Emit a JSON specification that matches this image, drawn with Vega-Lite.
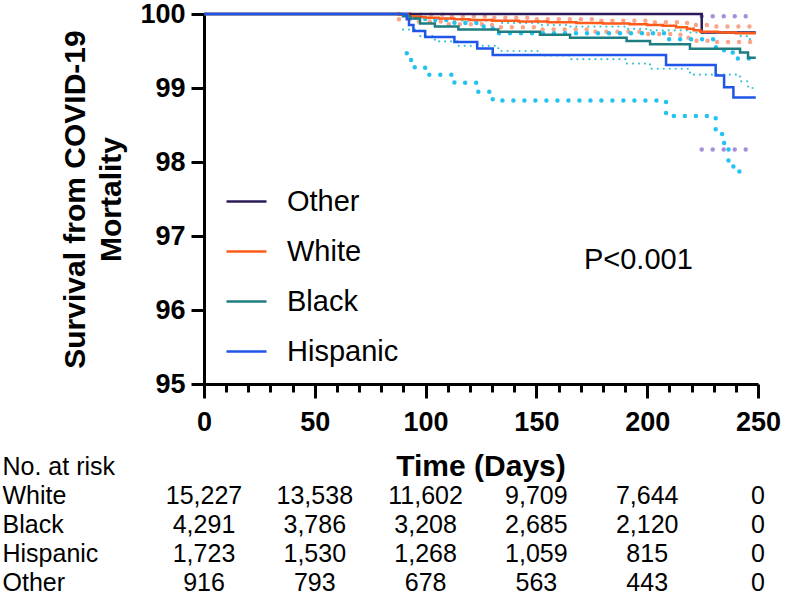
{
  "$schema": "https://vega.github.io/schema/vega-lite/v6.json",
  "padding": {"left": 2, "top": 0, "right": 0, "bottom": 0},
  "spacing": 16,
  "config": {
    "view": {"stroke": null},
    "font": "Liberation Sans",
    "axis": {"domainColor": "black", "tickColor": "black", "labelColor": "black", "titleColor": "black", "grid": false}
  },
  "datasets": {
    "km": [
      {"group": "Other", "day": 0, "surv": 100},
      {"group": "Other", "day": 224.6, "surv": 99.75},
      {"group": "Other", "day": 249, "surv": 99.75},
      {"group": "White", "day": 0, "surv": 100},
      {"group": "White", "day": 88, "surv": 99.99},
      {"group": "White", "day": 92, "surv": 99.97},
      {"group": "White", "day": 96, "surv": 99.96},
      {"group": "White", "day": 100, "surv": 99.95},
      {"group": "White", "day": 106, "surv": 99.94},
      {"group": "White", "day": 113, "surv": 99.93},
      {"group": "White", "day": 120, "surv": 99.92},
      {"group": "White", "day": 130, "surv": 99.91},
      {"group": "White", "day": 142, "surv": 99.9},
      {"group": "White", "day": 155, "surv": 99.89},
      {"group": "White", "day": 168, "surv": 99.88},
      {"group": "White", "day": 180, "surv": 99.87},
      {"group": "White", "day": 192, "surv": 99.86},
      {"group": "White", "day": 200, "surv": 99.85},
      {"group": "White", "day": 207, "surv": 99.84},
      {"group": "White", "day": 213, "surv": 99.82},
      {"group": "White", "day": 218, "surv": 99.8},
      {"group": "White", "day": 221, "surv": 99.78},
      {"group": "White", "day": 224, "surv": 99.76},
      {"group": "White", "day": 232, "surv": 99.75},
      {"group": "White", "day": 240, "surv": 99.74},
      {"group": "White", "day": 249, "surv": 99.74},
      {"group": "Black", "day": 0, "surv": 100},
      {"group": "Black", "day": 89.8, "surv": 99.97},
      {"group": "Black", "day": 93, "surv": 99.94},
      {"group": "Black", "day": 97.5, "surv": 99.87},
      {"group": "Black", "day": 104.2, "surv": 99.83},
      {"group": "Black", "day": 114.8, "surv": 99.79},
      {"group": "Black", "day": 132.8, "surv": 99.76},
      {"group": "Black", "day": 151.6, "surv": 99.72},
      {"group": "Black", "day": 165.2, "surv": 99.68},
      {"group": "Black", "day": 190.7, "surv": 99.635},
      {"group": "Black", "day": 201.3, "surv": 99.59},
      {"group": "Black", "day": 219.3, "surv": 99.53},
      {"group": "Black", "day": 241.9, "surv": 99.48},
      {"group": "Black", "day": 245.5, "surv": 99.41},
      {"group": "Black", "day": 249, "surv": 99.41},
      {"group": "Hispanic", "day": 0, "surv": 100},
      {"group": "Hispanic", "day": 91.5, "surv": 99.93},
      {"group": "Hispanic", "day": 92.5, "surv": 99.85},
      {"group": "Hispanic", "day": 94.5, "surv": 99.77},
      {"group": "Hispanic", "day": 99.8, "surv": 99.69},
      {"group": "Hispanic", "day": 113, "surv": 99.62},
      {"group": "Hispanic", "day": 123.3, "surv": 99.535},
      {"group": "Hispanic", "day": 130.3, "surv": 99.445},
      {"group": "Hispanic", "day": 208.5, "surv": 99.31},
      {"group": "Hispanic", "day": 230.9, "surv": 99.17},
      {"group": "Hispanic", "day": 234.7, "surv": 99.01},
      {"group": "Hispanic", "day": 238.9, "surv": 98.87},
      {"group": "Hispanic", "day": 249, "surv": 98.87}
    ],
    "ci": [
      {"group": "Other", "bound": "upper", "day": 224.6, "surv": 99.97},
      {"group": "Other", "bound": "upper", "day": 246, "surv": 99.97},
      {"group": "Other", "bound": "lower", "day": 224.6, "surv": 98.17},
      {"group": "Other", "bound": "lower", "day": 246, "surv": 98.17},
      {"group": "White", "bound": "upper", "day": 88, "surv": 100},
      {"group": "White", "bound": "upper", "day": 95, "surv": 99.99},
      {"group": "White", "bound": "upper", "day": 110, "surv": 99.97},
      {"group": "White", "bound": "upper", "day": 130, "surv": 99.95},
      {"group": "White", "bound": "upper", "day": 150, "surv": 99.93},
      {"group": "White", "bound": "upper", "day": 175, "surv": 99.91},
      {"group": "White", "bound": "upper", "day": 200, "surv": 99.89},
      {"group": "White", "bound": "upper", "day": 215, "surv": 99.88},
      {"group": "White", "bound": "upper", "day": 222, "surv": 99.85},
      {"group": "White", "bound": "upper", "day": 230, "surv": 99.83},
      {"group": "White", "bound": "upper", "day": 249, "surv": 99.83},
      {"group": "White", "bound": "lower", "day": 88, "surv": 99.93},
      {"group": "White", "bound": "lower", "day": 95, "surv": 99.9},
      {"group": "White", "bound": "lower", "day": 110, "surv": 99.86},
      {"group": "White", "bound": "lower", "day": 130, "surv": 99.82},
      {"group": "White", "bound": "lower", "day": 150, "surv": 99.79},
      {"group": "White", "bound": "lower", "day": 175, "surv": 99.76},
      {"group": "White", "bound": "lower", "day": 200, "surv": 99.73},
      {"group": "White", "bound": "lower", "day": 215, "surv": 99.68},
      {"group": "White", "bound": "lower", "day": 222, "surv": 99.64},
      {"group": "White", "bound": "lower", "day": 230, "surv": 99.62},
      {"group": "White", "bound": "lower", "day": 249, "surv": 99.6},
      {"group": "Black", "bound": "upper", "day": 89.8, "surv": 100},
      {"group": "Black", "bound": "upper", "day": 93, "surv": 99.98},
      {"group": "Black", "bound": "upper", "day": 97.5, "surv": 99.95},
      {"group": "Black", "bound": "upper", "day": 104.2, "surv": 99.93},
      {"group": "Black", "bound": "upper", "day": 114.8, "surv": 99.91},
      {"group": "Black", "bound": "upper", "day": 132.8, "surv": 99.88},
      {"group": "Black", "bound": "upper", "day": 151.6, "surv": 99.85},
      {"group": "Black", "bound": "upper", "day": 165.2, "surv": 99.83},
      {"group": "Black", "bound": "upper", "day": 190.7, "surv": 99.8},
      {"group": "Black", "bound": "upper", "day": 201.3, "surv": 99.78},
      {"group": "Black", "bound": "upper", "day": 219.3, "surv": 99.75},
      {"group": "Black", "bound": "upper", "day": 241.9, "surv": 99.7},
      {"group": "Black", "bound": "upper", "day": 245.5, "surv": 99.66},
      {"group": "Black", "bound": "upper", "day": 249, "surv": 99.66},
      {"group": "Black", "bound": "lower", "day": 89.8, "surv": 99.79},
      {"group": "Black", "bound": "lower", "day": 97.5, "surv": 99.7},
      {"group": "Black", "bound": "lower", "day": 104.2, "surv": 99.63},
      {"group": "Black", "bound": "lower", "day": 114.8, "surv": 99.57},
      {"group": "Black", "bound": "lower", "day": 132.8, "surv": 99.5},
      {"group": "Black", "bound": "lower", "day": 151.6, "surv": 99.44},
      {"group": "Black", "bound": "lower", "day": 165.2, "surv": 99.39},
      {"group": "Black", "bound": "lower", "day": 190.7, "surv": 99.33},
      {"group": "Black", "bound": "lower", "day": 201.3, "surv": 99.26},
      {"group": "Black", "bound": "lower", "day": 219.3, "surv": 99.18},
      {"group": "Black", "bound": "lower", "day": 241.9, "surv": 99.09},
      {"group": "Black", "bound": "lower", "day": 245.5, "surv": 99.0},
      {"group": "Black", "bound": "lower", "day": 249, "surv": 99.0},
      {"group": "Hispanic", "bound": "upper", "day": 91.5, "surv": 99.98},
      {"group": "Hispanic", "bound": "upper", "day": 92.5, "surv": 99.96},
      {"group": "Hispanic", "bound": "upper", "day": 94.5, "surv": 99.95},
      {"group": "Hispanic", "bound": "upper", "day": 99.8, "surv": 99.92},
      {"group": "Hispanic", "bound": "upper", "day": 113, "surv": 99.88},
      {"group": "Hispanic", "bound": "upper", "day": 123.3, "surv": 99.83},
      {"group": "Hispanic", "bound": "upper", "day": 130.3, "surv": 99.74},
      {"group": "Hispanic", "bound": "upper", "day": 208.5, "surv": 99.66},
      {"group": "Hispanic", "bound": "upper", "day": 230.9, "surv": 99.55},
      {"group": "Hispanic", "bound": "upper", "day": 234.7, "surv": 99.48},
      {"group": "Hispanic", "bound": "upper", "day": 238.9, "surv": 99.4},
      {"group": "Hispanic", "bound": "upper", "day": 246, "surv": 99.4},
      {"group": "Hispanic", "bound": "lower", "day": 91.5, "surv": 99.47},
      {"group": "Hispanic", "bound": "lower", "day": 92.5, "surv": 99.38},
      {"group": "Hispanic", "bound": "lower", "day": 94.5, "surv": 99.28},
      {"group": "Hispanic", "bound": "lower", "day": 99.8, "surv": 99.18},
      {"group": "Hispanic", "bound": "lower", "day": 113, "surv": 99.07},
      {"group": "Hispanic", "bound": "lower", "day": 123.3, "surv": 98.95},
      {"group": "Hispanic", "bound": "lower", "day": 130.3, "surv": 98.83},
      {"group": "Hispanic", "bound": "lower", "day": 208.5, "surv": 98.62},
      {"group": "Hispanic", "bound": "lower", "day": 230.9, "surv": 98.38},
      {"group": "Hispanic", "bound": "lower", "day": 234.7, "surv": 98.2},
      {"group": "Hispanic", "bound": "lower", "day": 236.7, "surv": 98.02},
      {"group": "Hispanic", "bound": "lower", "day": 238.9, "surv": 97.87},
      {"group": "Hispanic", "bound": "lower", "day": 246, "surv": 97.87}
    ],
    "notes": [
      {"label": "P<0.001", "day": 196, "surv": 96.68}
    ],
    "xtitle": [
      {"group": "No. at risk", "day": 125, "label": "Time (Days)"}
    ],
    "risk": [
      {"group": "White", "day": 0, "n": 15227},
      {"group": "White", "day": 50, "n": 13538},
      {"group": "White", "day": 100, "n": 11602},
      {"group": "White", "day": 150, "n": 9709},
      {"group": "White", "day": 200, "n": 7644},
      {"group": "White", "day": 250, "n": 0},
      {"group": "Black", "day": 0, "n": 4291},
      {"group": "Black", "day": 50, "n": 3786},
      {"group": "Black", "day": 100, "n": 3208},
      {"group": "Black", "day": 150, "n": 2685},
      {"group": "Black", "day": 200, "n": 2120},
      {"group": "Black", "day": 250, "n": 0},
      {"group": "Hispanic", "day": 0, "n": 1723},
      {"group": "Hispanic", "day": 50, "n": 1530},
      {"group": "Hispanic", "day": 100, "n": 1268},
      {"group": "Hispanic", "day": 150, "n": 1059},
      {"group": "Hispanic", "day": 200, "n": 815},
      {"group": "Hispanic", "day": 250, "n": 0},
      {"group": "Other", "day": 0, "n": 916},
      {"group": "Other", "day": 50, "n": 793},
      {"group": "Other", "day": 100, "n": 678},
      {"group": "Other", "day": 150, "n": 563},
      {"group": "Other", "day": 200, "n": 443},
      {"group": "Other", "day": 250, "n": 0}
    ]
  },
  "vconcat": [
    {
      "width": 554,
      "height": 370,
      "encoding": {
        "y": {
          "field": "surv",
          "type": "quantitative",
          "scale": {"domain": [95, 100], "nice": false, "zero": false},
          "axis": {
            "values": [95, 96, 97, 98, 99, 100],
            "tickSize": 13,
            "tickWidth": 3,
            "domainWidth": 3,
            "labelFontSize": 27,
            "labelFontWeight": "bold",
            "labelPadding": 6,
            "title": ["Survival from COVID-19", "Mortality"],
            "titleFontSize": 30,
            "titleFontWeight": "bold",
            "titlePadding": 13,
            "titleLineHeight": 36
          }
        }
      },
      "layer": [
        {
          "data": {"name": "ci"},
          "transform": [{"filter": "datum.group !== 'Black'"}],
          "mark": {"type": "line", "interpolate": "step-after", "strokeDash": [0, 11], "strokeCap": "round", "strokeWidth": 4.5},
          "encoding": {
            "x": {
              "field": "day",
              "type": "quantitative",
              "scale": {"domain": [0, 250], "nice": false},
              "axis": {
                "orient": "bottom",
                "values": [10, 20, 30, 40, 60, 70, 80, 90, 110, 120, 130, 140, 160, 170, 180, 190, 210, 220, 230, 240],
                "labels": false,
                "domain": false,
                "tickSize": 8,
                "tickWidth": 3,
                "title": null
              }
            },
            "color": {
              "field": "group",
              "type": "nominal",
              "scale": {"domain": ["Other", "White", "Hispanic"], "range": ["#A68FDB", "#F9A58A", "#22C3F2"]},
              "legend": null
            },
            "detail": {"field": "bound"}
          }
        },
        {
          "data": {"name": "ci"},
          "transform": [{"filter": "datum.group === 'Black'"}],
          "mark": {"type": "line", "interpolate": "step-after", "strokeDash": [0, 6], "strokeCap": "round", "strokeWidth": 2.2, "color": "#3CC0DA"},
          "encoding": {
            "x": {"field": "day", "type": "quantitative", "axis": null},
            "detail": {"field": "bound"}
          }
        },
        {
          "data": {"name": "km"},
          "mark": {"type": "line", "interpolate": "step-after", "strokeWidth": 2.5},
          "encoding": {
            "x": {
              "field": "day",
              "type": "quantitative",
              "axis": {
                "orient": "bottom",
                "values": [0, 50, 100, 150, 200, 250],
                "tickSize": 14,
                "tickWidth": 3,
                "domainWidth": 3,
                "labelFontSize": 27,
                "labelFontWeight": "bold",
                "labelPadding": 11,
                "labelFlush": false,
                "title": null
              }
            },
            "color": {
              "field": "group",
              "type": "nominal",
              "scale": {"domain": ["Other", "White", "Black", "Hispanic"], "range": ["#2B1B5A", "#FF5B1A", "#1E7D80", "#1F55E8"]},
              "legend": {
                "title": null,
                "orient": "none",
                "legendX": 21,
                "legendY": 166,
                "symbolType": "stroke",
                "symbolSize": 1600,
                "symbolStrokeWidth": 2.5,
                "labelFontSize": 29,
                "labelOffset": 19,
                "rowPadding": 13,
                "labelColor": "black",
                "padding": 0
              }
            }
          }
        },
        {
          "data": {"name": "notes"},
          "mark": {"type": "text", "fontSize": 29, "align": "center", "baseline": "middle", "color": "black"},
          "encoding": {
            "x": {"field": "day", "type": "quantitative", "axis": null},
            "text": {"field": "label"}
          }
        }
      ],
      "resolve": {"scale": {"color": "independent"}, "axis": {"x": "independent"}}
    },
    {
      "width": 554,
      "height": 145,
      "encoding": {
        "x": {"field": "day", "type": "quantitative", "scale": {"domain": [0, 250], "nice": false}, "axis": null},
        "y": {
          "field": "group",
          "type": "nominal",
          "scale": {"type": "point", "domain": ["No. at risk", "White", "Black", "Hispanic", "Other"], "padding": 0.5},
          "axis": {
            "title": null,
            "domain": false,
            "ticks": false,
            "tickSize": 0,
            "labelAlign": "left",
            "labelPadding": 202,
            "labelFontSize": 25,
            "labelColor": "black",
            "labelLimit": 300
          }
        }
      },
      "layer": [
        {
          "data": {"name": "risk"},
          "mark": {"type": "text", "fontSize": 25, "align": "center", "baseline": "middle", "color": "black"},
          "encoding": {
            "text": {"field": "n", "type": "quantitative", "format": ","}
          }
        },
        {
          "data": {"name": "xtitle"},
          "mark": {"type": "text", "fontSize": 30, "fontWeight": "bold", "align": "center", "baseline": "middle", "color": "black"},
          "encoding": {
            "text": {"field": "label"}
          }
        }
      ]
    }
  ]
}
